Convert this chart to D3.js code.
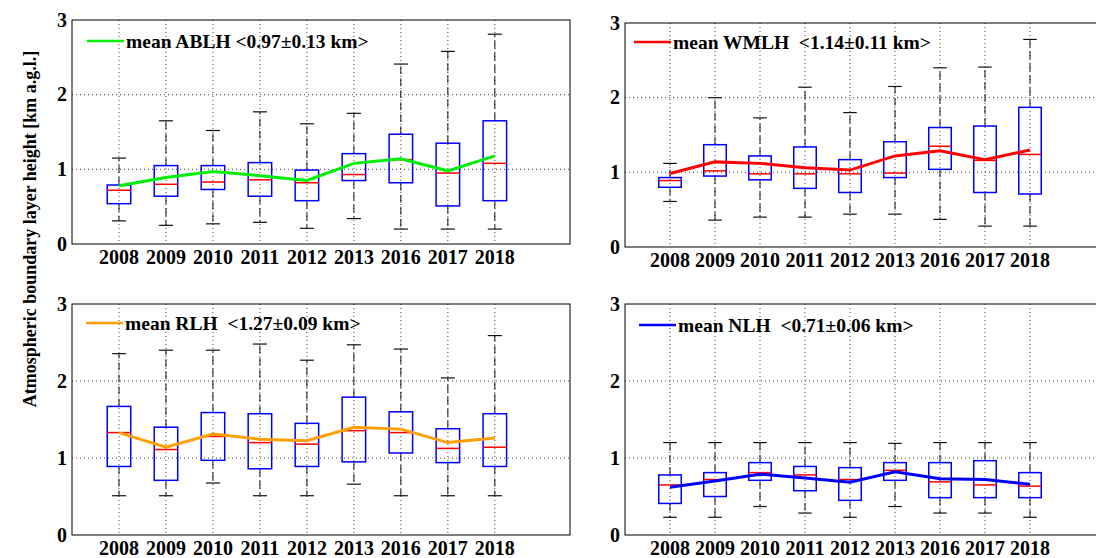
<!DOCTYPE html>
<meta charset="utf-8">
<style>
    body { margin: 0; background: #fff; }
    .grid line { stroke: #444; stroke-width: 1; stroke-dasharray: 1,3; }
    .whisker { stroke: #111; stroke-width: 1; stroke-dasharray: 8,4; }
    .cap { stroke: #111; stroke-width: 1.2; }
    .box { fill: none; stroke: #0000ff; stroke-width: 1.5; }
    .median { stroke: #ff0000; stroke-width: 1.5; }
    .frame { fill: none; stroke: #000; stroke-width: 1; }
</style>
<svg width="1096" height="558"></svg>
<script src="https://d3js.org/d3.v7.min.js"></script>
<script>

    var years = ["2008", "2009", "2010", "2011", "2012", "2013", "2016", "2017", "2018"];
    var yTicks = [0, 1, 2, 3];

    // ABLH
    var ablhUpper  = [1.15, 1.65, 1.52, 1.77, 1.61, 1.75, 2.41, 2.58, 2.81];
    var ablhQ3     = [0.79, 1.05, 1.05, 1.09, 0.99, 1.21, 1.47, 1.35, 1.65];
    var ablhMedian = [0.72, 0.80, 0.83, 0.86, 0.82, 0.93, 1.13, 0.95, 1.08];
    var ablhQ1     = [0.54, 0.64, 0.73, 0.64, 0.58, 0.85, 0.82, 0.51, 0.58];
    var ablhLower  = [0.31, 0.25, 0.27, 0.29, 0.21, 0.34, 0.20, 0.20, 0.20];
    var ablhMean   = [0.78, 0.89, 0.97, 0.915, 0.85, 1.08, 1.14, 0.98, 1.18];

    // WMLH
    var wmlhUpper  = [1.12, 2.00, 1.73, 2.14, 1.80, 2.15, 2.40, 2.41, 2.78];
    var wmlhQ3     = [0.93, 1.37, 1.22, 1.34, 1.17, 1.41, 1.60, 1.62, 1.87];
    var wmlhMedian = [0.89, 1.02, 0.98, 0.98, 0.98, 0.99, 1.35, 1.16, 1.24];
    var wmlhQ1     = [0.80, 0.95, 0.90, 0.785, 0.73, 0.93, 1.04, 0.73, 0.71];
    var wmlhLower  = [0.61, 0.36, 0.40, 0.40, 0.44, 0.44, 0.37, 0.28, 0.28];
    var wmlhMean   = [0.985, 1.14, 1.12, 1.06, 1.03, 1.22, 1.29, 1.17, 1.30];

    // RLH
    var rlhUpper  = [2.355, 2.40, 2.40, 2.48, 2.27, 2.47, 2.415, 2.04, 2.59];
    var rlhQ3     = [1.67, 1.40, 1.59, 1.575, 1.45, 1.79, 1.60, 1.38, 1.575];
    var rlhMedian = [1.33, 1.11, 1.28, 1.20, 1.18, 1.355, 1.33, 1.125, 1.14];
    var rlhQ1     = [0.89, 0.71, 0.97, 0.86, 0.89, 0.95, 1.065, 0.94, 0.89];
    var rlhLower  = [0.51, 0.51, 0.675, 0.51, 0.51, 0.66, 0.51, 0.51, 0.51];
    var rlhMean   = [1.33, 1.14, 1.31, 1.245, 1.225, 1.40, 1.375, 1.20, 1.26];

    // NLH
    var nlhUpper  = [1.20, 1.20, 1.20, 1.20, 1.20, 1.19, 1.20, 1.20, 1.20];
    var nlhQ3     = [0.78, 0.81, 0.94, 0.89, 0.875, 0.94, 0.94, 0.965, 0.81];
    var nlhMedian = [0.65, 0.72, 0.81, 0.78, 0.72, 0.84, 0.69, 0.65, 0.635];
    var nlhQ1     = [0.41, 0.50, 0.71, 0.575, 0.45, 0.71, 0.485, 0.485, 0.485];
    var nlhLower  = [0.23, 0.23, 0.37, 0.285, 0.23, 0.37, 0.285, 0.285, 0.23];
    var nlhMean   = [0.62, 0.70, 0.79, 0.74, 0.685, 0.82, 0.73, 0.72, 0.66];

    var legendNames = ["mean ABLH", "mean WMLH ", "mean RLH ", "mean NLH "];
    var legendValues = ["<0.97\u00b10.13 km>", "<1.14\u00b10.11 km>", "<1.27\u00b10.09 km>", "<0.71\u00b10.06 km>"];
    var meanColors = ["#00ee00", "#ff0000", "#ffa000", "#0000ff"];

    var series = [
        {upper: ablhUpper, q3: ablhQ3, median: ablhMedian, q1: ablhQ1, lower: ablhLower, mean: ablhMean},
        {upper: wmlhUpper, q3: wmlhQ3, median: wmlhMedian, q1: wmlhQ1, lower: wmlhLower, mean: wmlhMean},
        {upper: rlhUpper, q3: rlhQ3, median: rlhMedian, q1: rlhQ1, lower: rlhLower, mean: rlhMean},
        {upper: nlhUpper, q3: nlhQ3, median: nlhMedian, q1: nlhQ1, lower: nlhLower, mean: nlhMean}
    ];

    // panel frames in page pixels
    var layout = [
        {left: 72, right: 570, top: 20, bottom: 244, legX: 87, legY: 41},
        {left: 625, right: 1102, top: 23, bottom: 247, legX: 634, legY: 42},
        {left: 72, right: 570, top: 304, bottom: 535, legX: 86, legY: 323},
        {left: 625, right: 1102, top: 304, bottom: 535, legX: 639, legY: 325}
    ];

    var serif = "'Liberation Serif', Tinos, 'Times New Roman', 'DejaVu Serif', serif";
    var svg = d3.select("svg");

    series.forEach(function (s, k) {
        var L = layout[k];
        var x = d3.scaleLinear().domain([0, 10.6]).range([L.left, L.right]);
        var y = d3.scaleLinear().domain([0, 3]).range([L.bottom, L.top]);
        var halfBox = 0.25, halfCap = 0.15;

        var rows = years.map(function (yr, i) {
            return {pos: i + 1, year: yr, upper: s.upper[i], q3: s.q3[i], median: s.median[i],
                q1: s.q1[i], lower: s.lower[i], mean: s.mean[i]};
        });

        var g = svg.append("g");

        // grid
        var grid = g.append("g").attr("class", "grid");
        grid.selectAll("line.h").data([1, 2]).enter().append("line")
            .attr("x1", L.left).attr("x2", L.right)
            .attr("y1", function (d) { return y(d); })
            .attr("y2", function (d) { return y(d); });
        grid.selectAll("line.v").data(rows).enter().append("line")
            .attr("x1", function (d) { return x(d.pos); })
            .attr("x2", function (d) { return x(d.pos); })
            .attr("y1", y(3)).attr("y2", y(0));

        // whiskers
        g.selectAll("line.wu").data(rows).enter().append("line").attr("class", "whisker")
            .attr("x1", function (d) { return x(d.pos); })
            .attr("x2", function (d) { return x(d.pos); })
            .attr("y1", function (d) { return y(d.q3); })
            .attr("y2", function (d) { return y(d.upper); });
        g.selectAll("line.wl").data(rows).enter().append("line").attr("class", "whisker")
            .attr("x1", function (d) { return x(d.pos); })
            .attr("x2", function (d) { return x(d.pos); })
            .attr("y1", function (d) { return y(d.q1); })
            .attr("y2", function (d) { return y(d.lower); });
        ["upper", "lower"].forEach(function (key) {
            g.selectAll("line.c" + key).data(rows).enter().append("line").attr("class", "cap")
                .attr("x1", function (d) { return x(d.pos - halfCap); })
                .attr("x2", function (d) { return x(d.pos + halfCap); })
                .attr("y1", function (d) { return y(d[key]); })
                .attr("y2", function (d) { return y(d[key]); });
        });

        // boxes
        g.selectAll("rect.box").data(rows).enter().append("rect").attr("class", "box")
            .attr("x", function (d) { return x(d.pos - halfBox); })
            .attr("width", function (d) { return x(d.pos + halfBox) - x(d.pos - halfBox); })
            .attr("y", function (d) { return y(d.q3); })
            .attr("height", function (d) { return y(d.q1) - y(d.q3); });

        g.selectAll("line.median").data(rows).enter().append("line").attr("class", "median")
            .attr("x1", function (d) { return x(d.pos - halfBox); })
            .attr("x2", function (d) { return x(d.pos + halfBox); })
            .attr("y1", function (d) { return y(d.median); })
            .attr("y2", function (d) { return y(d.median); });

        // mean line
        var line = d3.line()
            .x(function (d) { return x(d.pos); })
            .y(function (d) { return y(d.mean); });
        g.append("path").datum(rows)
            .attr("d", line)
            .attr("fill", "none")
            .attr("stroke", meanColors[k])
            .attr("stroke-width", 3);

        // frame
        g.append("rect").attr("class", "frame")
            .attr("x", L.left).attr("y", L.top)
            .attr("width", L.right - L.left).attr("height", L.bottom - L.top);

        // tick labels
        g.selectAll("text.xt").data(rows).enter().append("text")
            .attr("x", function (d) { return x(d.pos); })
            .attr("y", L.bottom + 20)
            .attr("text-anchor", "middle")
            .style("font-family", serif).style("font-weight", "bold")
            .style("font-size", "20px")
            .text(function (d) { return d.year; });
        g.selectAll("text.yt").data(yTicks).enter().append("text")
            .attr("x", L.left - 5)
            .attr("y", function (d) { return y(d); })
            .attr("dy", "0.34em")
            .attr("text-anchor", "end")
            .style("font-family", serif).style("font-weight", "bold")
            .style("font-size", "20px")
            .text(function (d) { return d; });

        // legend
        g.append("line")
            .attr("x1", L.legX).attr("x2", L.legX + 37)
            .attr("y1", L.legY).attr("y2", L.legY)
            .attr("stroke", meanColors[k]).attr("stroke-width", 2.5);
        var lt = g.append("text")
            .attr("x", L.legX + 39).attr("y", L.legY + 7)
            .style("font-family", serif).style("font-weight", "bold")
            .style("font-size", "19.5px")
            .style("white-space", "pre");
        lt.append("tspan").text(legendNames[k] + " ");
        lt.append("tspan").text(legendValues[k]);
    });

    svg.append("text")
        .attr("transform", "translate(36,229) rotate(-90)")
        .attr("text-anchor", "middle")
        .style("font-family", serif).style("font-weight", "bold")
        .style("font-size", "18px")
        .text("Atmospheric boundary layer height [km a.g.l.]");

</script>
